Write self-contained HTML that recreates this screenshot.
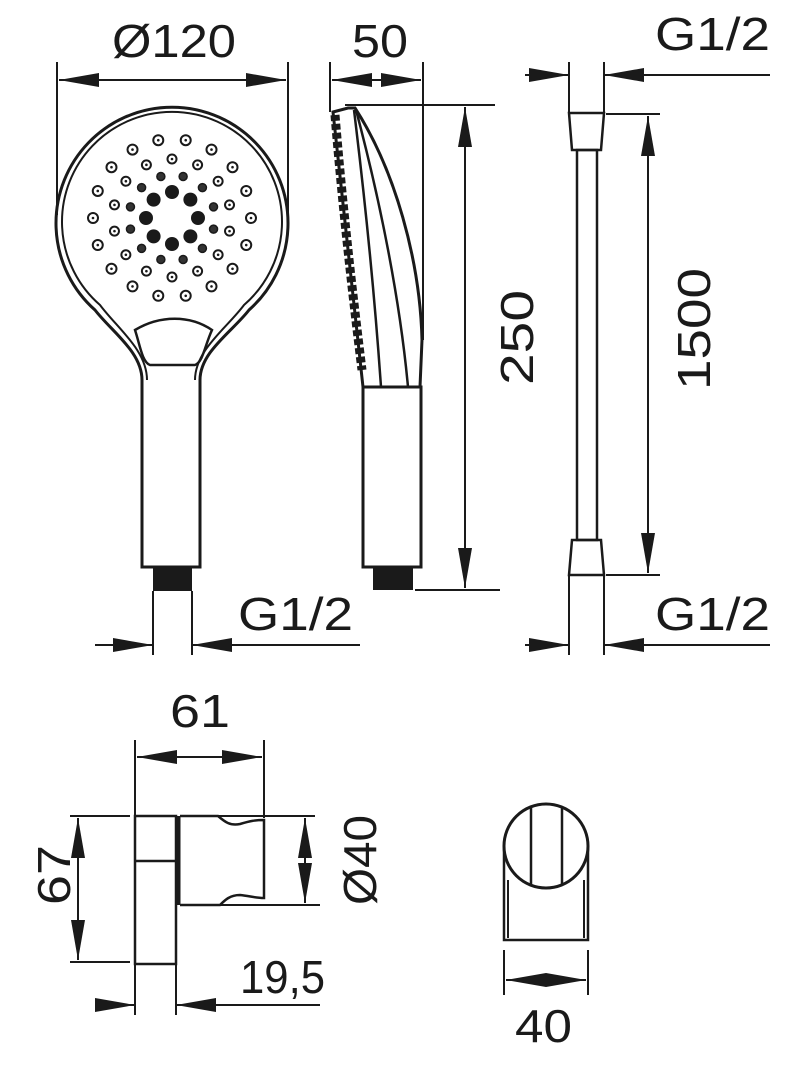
<!DOCTYPE html>
<html><head><meta charset="utf-8"><style>
body{margin:0;background:#fff}
svg{display:block}
text{font-family:"Liberation Sans",sans-serif;font-size:46px;fill:#1a1a1a;stroke:none}
</style></head><body>
<svg id="s" width="800" height="1068" viewBox="0 0 800 1068" xmlns="http://www.w3.org/2000/svg" stroke="#1a1a1a" fill="none" stroke-width="2.5">
<defs>
<marker id="a" viewBox="0 0 40 14" refX="40" refY="7" markerWidth="40" markerHeight="14" markerUnits="userSpaceOnUse" orient="auto"><path d="M0,0L40,7L0,14Z" fill="#1a1a1a" stroke="none"/></marker>
</defs>
<!-- FRONT VIEW -->
<line x1="57" y1="62" x2="57" y2="215" stroke-width="2"/>
<line x1="288" y1="62" x2="288" y2="215" stroke-width="2"/>
<line x1="59" y1="80" x2="286" y2="80" stroke-width="2" marker-end="url(#a)"/>
<line x1="286" y1="80" x2="59" y2="80" stroke-width="2" marker-end="url(#a)"/>
<text x="112" y="57" textLength="124" lengthAdjust="spacingAndGlyphs">Ø120</text>
<path d="M142,567 L142,380 C142,352 112,332 95,310 A116,116 0 1 1 249,310 C232,332 200,352 200,380 L200,567 Z" stroke-width="3"/>
<path d="M147,380 C147,350 117,328 100,305 A110,110 0 1 1 244,305 C227,328 195,350 195,380" stroke-width="2"/>
<path d="M135,330 C160,315 190,315 212,330 C205,345 203,362 195,365 L150,365 C142,362 140,345 135,330 Z" stroke-width="2.5"/>
<g id="holes"></g>
<rect x="153" y="567" width="39" height="24" fill="#1a1a1a" stroke="none"/>
<line x1="153" y1="591" x2="153" y2="655" stroke-width="2"/>
<line x1="192" y1="591" x2="192" y2="655" stroke-width="2"/>
<line x1="95" y1="645" x2="153" y2="645" stroke-width="2" marker-end="url(#a)"/>
<line x1="360" y1="645" x2="192" y2="645" stroke-width="2" marker-end="url(#a)"/>
<text x="238" y="630" textLength="115" lengthAdjust="spacingAndGlyphs">G1/2</text>
<!-- SIDE VIEW -->
<line x1="330" y1="62" x2="330" y2="112" stroke-width="2"/>
<line x1="423" y1="62" x2="423" y2="340" stroke-width="2"/>
<line x1="332" y1="80" x2="421" y2="80" stroke-width="2" marker-end="url(#a)"/>
<line x1="421" y1="80" x2="332" y2="80" stroke-width="2" marker-end="url(#a)"/>
<text x="352" y="57" textLength="56" lengthAdjust="spacingAndGlyphs">50</text>
<path d="M333,112 L348,108 L355,108 C395,170 420,260 422,340 L420,387 L363,387 Z" stroke-width="3"/>
<path d="M354,110 C365,200 375,300 381,387" stroke-width="2.5"/>
<path d="M356,110 C380,200 400,300 408,387" stroke-width="2.5"/>
<path d="M335,115 C342,200 352,290 362,370" stroke="#1a1a1a" stroke-width="9" stroke-dasharray="6 3"/>
<rect x="363" y="387" width="58" height="180" stroke-width="3"/>
<rect x="373" y="567" width="40" height="23" fill="#1a1a1a" stroke="none"/>
<line x1="345" y1="105" x2="495" y2="105" stroke-width="2"/>
<line x1="415" y1="590" x2="500" y2="590" stroke-width="2"/>
<line x1="465" y1="340" x2="465" y2="107" stroke-width="2" marker-end="url(#a)"/>
<line x1="465" y1="340" x2="465" y2="588" stroke-width="2" marker-end="url(#a)"/>
<text transform="translate(533,385) rotate(-90)" textLength="95" lengthAdjust="spacingAndGlyphs">250</text>
<!-- HOSE -->
<line x1="569" y1="62" x2="569" y2="113" stroke-width="2"/>
<line x1="604" y1="62" x2="604" y2="113" stroke-width="2"/>
<line x1="525" y1="75" x2="569" y2="75" stroke-width="2" marker-end="url(#a)"/>
<line x1="770" y1="75" x2="604" y2="75" stroke-width="2" marker-end="url(#a)"/>
<text x="655" y="50" textLength="115" lengthAdjust="spacingAndGlyphs">G1/2</text>
<path d="M569,113 L604,113 L601,150 L572,150 Z" stroke-width="2.5"/>
<line x1="606" y1="114" x2="660" y2="114" stroke-width="2"/>
<rect x="577" y="150" width="20" height="390" stroke-width="2.5"/>
<path d="M572,540 L601,540 L604,575 L569,575 Z" stroke-width="2.5"/>
<line x1="606" y1="575" x2="660" y2="575" stroke-width="2"/>
<line x1="648" y1="330" x2="648" y2="116" stroke-width="2" marker-end="url(#a)"/>
<line x1="648" y1="330" x2="648" y2="573" stroke-width="2" marker-end="url(#a)"/>
<text transform="translate(710,390) rotate(-90)" textLength="122" lengthAdjust="spacingAndGlyphs">1500</text>
<line x1="569" y1="575" x2="569" y2="655" stroke-width="2"/>
<line x1="604" y1="575" x2="604" y2="655" stroke-width="2"/>
<line x1="525" y1="645" x2="569" y2="645" stroke-width="2" marker-end="url(#a)"/>
<line x1="770" y1="645" x2="604" y2="645" stroke-width="2" marker-end="url(#a)"/>
<text x="655" y="630" textLength="115" lengthAdjust="spacingAndGlyphs">G1/2</text>
<!-- HOLDER SIDE -->
<line x1="135" y1="740" x2="135" y2="1015" stroke-width="2"/>
<line x1="264" y1="740" x2="264" y2="818" stroke-width="2"/>
<line x1="137" y1="757" x2="262" y2="757" stroke-width="2" marker-end="url(#a)"/>
<line x1="262" y1="757" x2="137" y2="757" stroke-width="2" marker-end="url(#a)"/>
<text x="170" y="727" textLength="60" lengthAdjust="spacingAndGlyphs">61</text>
<rect x="135" y="816" width="41" height="148" stroke-width="2.5"/>
<line x1="135" y1="861" x2="176" y2="861" stroke-width="2.5"/>
<line x1="178" y1="816" x2="178" y2="905" stroke-width="5"/>
<path d="M180,816 L218,816 C225,822 230,826 240,824 C250,821 255,820 264,820 L264,898 C255,898 250,896 240,895 C230,895 225,900 220,905 L180,905" stroke-width="2.5"/>
<line x1="218" y1="816" x2="315" y2="816" stroke-width="2"/>
<line x1="220" y1="905" x2="320" y2="905" stroke-width="2"/>
<line x1="305" y1="860" x2="305" y2="818" stroke-width="2" marker-end="url(#a)"/>
<line x1="305" y1="860" x2="305" y2="903" stroke-width="2" marker-end="url(#a)"/>
<text transform="translate(376,905) rotate(-90)" textLength="90" lengthAdjust="spacingAndGlyphs">Ø40</text>
<line x1="70" y1="816" x2="130" y2="816" stroke-width="2"/>
<line x1="70" y1="962" x2="130" y2="962" stroke-width="2"/>
<line x1="78" y1="889" x2="78" y2="818" stroke-width="2" marker-end="url(#a)"/>
<line x1="78" y1="889" x2="78" y2="960" stroke-width="2" marker-end="url(#a)"/>
<text transform="translate(70,905) rotate(-90)" textLength="60" lengthAdjust="spacingAndGlyphs">67</text>
<line x1="176" y1="964" x2="176" y2="1015" stroke-width="2"/>
<line x1="95" y1="1005" x2="135" y2="1005" stroke-width="2" marker-end="url(#a)"/>
<line x1="320" y1="1005" x2="176" y2="1005" stroke-width="2" marker-end="url(#a)"/>
<text x="240" y="993" textLength="85" lengthAdjust="spacingAndGlyphs">19,5</text>
<!-- HOLDER FRONT -->
<path d="M504,846 L504,940 L588,940 L588,846" stroke-width="2.5"/>
<path d="M508,880 L508,938 M584,880 L584,938" stroke-width="2"/>
<circle cx="546" cy="846" r="42" stroke-width="3" fill="#fff"/>
<line x1="531" y1="808" x2="531" y2="884" stroke-width="2.5"/>
<line x1="562" y1="808" x2="562" y2="884" stroke-width="2.5"/>
<line x1="504" y1="950" x2="504" y2="995" stroke-width="2"/>
<line x1="588" y1="950" x2="588" y2="995" stroke-width="2"/>
<line x1="546" y1="980" x2="506" y2="980" stroke-width="2" marker-end="url(#a)"/>
<line x1="546" y1="980" x2="586" y2="980" stroke-width="2" marker-end="url(#a)"/>
<text x="515" y="1042" textLength="57" lengthAdjust="spacingAndGlyphs">40</text>
</svg>
<script>
var ns="http://www.w3.org/2000/svg",g=document.getElementById("holes"),cx=172,cy=218;
function c(x,y,r,f,sw){var e=document.createElementNS(ns,"circle");e.setAttribute("cx",x);e.setAttribute("cy",y);e.setAttribute("r",r);e.setAttribute("fill",f);e.setAttribute("stroke-width",sw);g.appendChild(e);}
function ring(R,n,off,r,type){for(var i=0;i<n;i++){var t=(i/n)*2*Math.PI+off,x=cx+R*Math.sin(t),y=cy-R*Math.cos(t);
if(type==0)c(x,y,r,"#1a1a1a",0);else if(type==1)c(x,y,r,"#333",1.5);else{c(x,y,r,"#fff",2);c(x,y,1.3,"#1a1a1a",0);}}}
ring(26,8,0,7,0);ring(43,12,Math.PI/12,4,1);ring(59,14,0,4.5,2);ring(79,18,Math.PI/18,5,2);
</script>
</body></html>
